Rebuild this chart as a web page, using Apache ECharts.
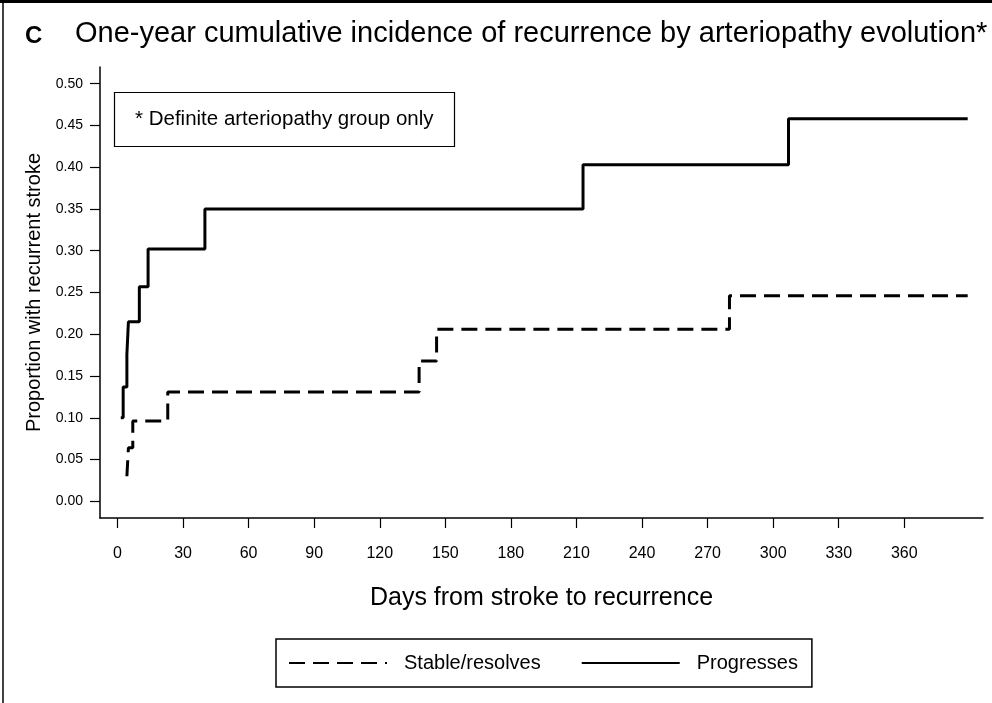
<!DOCTYPE html>
<html><head><meta charset="utf-8">
<script src="https://cdn.jsdelivr.net/npm/echarts@6/dist/echarts.min.js"></script>
<style>html,body{margin:0;padding:0;background:#fff}#c{width:992px;height:703px}</style>
</head><body><div id="c"></div>
<script>
// Data (days, cumulative proportion)
const stableDays = [4.3, 5, 7, 23, 138, 146, 280, 389];
const stableValues = [0.03, 0.064, 0.096, 0.131, 0.168, 0.206, 0.246, 0.246];
const progressDays = [1.5, 2.6, 4.3, 5, 10, 14, 40, 213, 307, 389];
const progressValues = [0.10, 0.137, 0.176, 0.215, 0.257, 0.302, 0.35, 0.403, 0.458, 0.458];
const xTickValues = [0, 30, 60, 90, 120, 150, 180, 210, 240, 270, 300, 330, 360];
const yTickValues = [0, 0.05, 0.10, 0.15, 0.20, 0.25, 0.30, 0.35, 0.40, 0.45, 0.50];
const seriesNames = ['Stable/resolves', 'Progresses'];

const FONT = 'Liberation Sans, Arial, sans-serif';
const pairs = (xs, ys) => xs.map((x, i) => [x, ys[i]]);

const chart = echarts.init(document.getElementById('c'));
chart.setOption({
  backgroundColor: '#fff',
  animation: false,
  textStyle: { fontFamily: FONT, color: '#000' },
  title: [
    { text: 'C', left: 20, top: 19, textStyle: { fontFamily: FONT, fontSize: 24, fontWeight: 'bold', color: '#000' } },
    { text: 'One-year cumulative incidence of recurrence by arteriopathy evolution*', left: 70, top: 14,
      textStyle: { fontFamily: FONT, fontSize: 29, fontWeight: 'normal', color: '#000' } },
    { text: '* Definite arteriopathy group only', left: 114, top: 92, padding: [17, 21],
      borderColor: '#000', borderWidth: 1.2,
      textStyle: { fontFamily: FONT, fontSize: 20.5, fontWeight: 'normal', color: '#000' } }
  ],
  graphic: [
    { type: 'line', shape: { x1: 0, y1: 1.5, x2: 992, y2: 1.5 }, style: { stroke: '#000', lineWidth: 3 } },
    { type: 'line', shape: { x1: 3, y1: 0, x2: 3, y2: 703 }, style: { stroke: '#000', lineWidth: 1.5 } }
  ],
  grid: { left: 100, right: 9, top: 67, bottom: 185, containLabel: false },
  xAxis: {
    type: 'value', min: -8, max: 396,
    name: 'Days from stroke to recurrence', nameLocation: 'middle', nameGap: 68,
    nameTextStyle: { fontFamily: FONT, fontSize: 25, color: '#000' },
    axisLine: { show: true, onZero: false, lineStyle: { color: '#000', width: 1.5 } },
    axisTick: { show: true, length: 10, customValues: xTickValues, lineStyle: { color: '#000', width: 1.2 } },
    axisLabel: { customValues: xTickValues, margin: 28, fontSize: 16, color: '#000', fontFamily: FONT },
    splitLine: { show: false }
  },
  yAxis: {
    type: 'value', min: -0.02, max: 0.52,
    name: 'Proportion with recurrent stroke', nameLocation: 'middle', nameGap: 49,
    nameTextStyle: { fontFamily: FONT, fontSize: 20, color: '#000' },
    axisLine: { show: true, onZero: false, lineStyle: { color: '#000', width: 1.5 } },
    axisTick: { show: true, length: 10, customValues: yTickValues, lineStyle: { color: '#000', width: 1.2 } },
    axisLabel: { customValues: yTickValues, margin: 17, fontSize: 14, color: '#000', fontFamily: FONT,
      formatter: v => v.toFixed(2) },
    splitLine: { show: false }
  },
  legend: {
    data: seriesNames, left: 276, top: 639, orient: 'horizontal',
    itemWidth: 98, itemHeight: 14, itemGap: 40, padding: [14, 14, 14, 12],
    borderColor: '#000', borderWidth: 1.5,
    itemStyle: { opacity: 0, color: 'transparent', borderWidth: 0 },
    textStyle: { fontFamily: FONT, fontSize: 20, color: '#000', padding: [0, 0, 0, 12] }
  },
  series: [
    { name: seriesNames[0], type: 'line', step: 'end', symbol: 'none', data: pairs(stableDays, stableValues),
      lineStyle: { color: '#000', width: 3, type: [16, 8] }, itemStyle: { color: '#000' } },
    { name: seriesNames[1], type: 'line', step: 'end', symbol: 'none', data: pairs(progressDays, progressValues),
      lineStyle: { color: '#000', width: 3, type: 'solid' }, itemStyle: { color: '#000' } }
  ]
});
</script></body></html>
